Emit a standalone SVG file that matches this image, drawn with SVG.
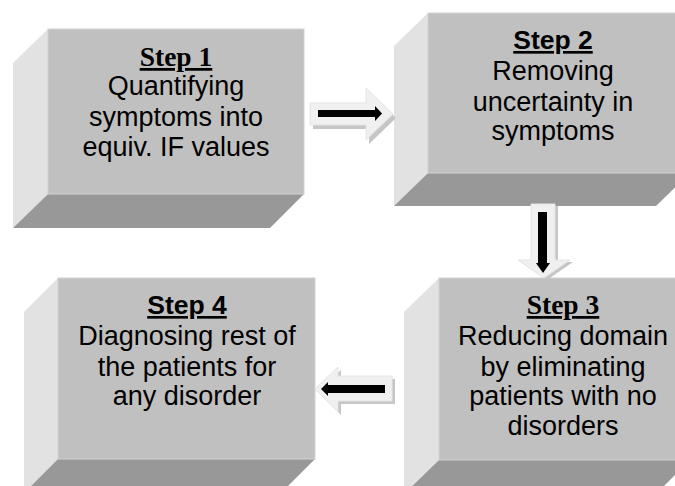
<svg xmlns="http://www.w3.org/2000/svg" width="675" height="486" viewBox="0 0 675 486">
<style>
.front{fill:#c0c0c0;stroke:#d2d2d2;stroke-width:1}
.left{fill:#e2e2e2}
.bottom{fill:#989898}
.t{font-family:"Liberation Sans",Arial,sans-serif;font-size:27px;text-anchor:middle;fill:#000}
.ts{font-family:"Liberation Serif","Times New Roman",serif;font-weight:bold;font-size:27.5px;text-anchor:middle;text-decoration:underline;fill:#000}
.ta{font-family:"Liberation Sans",Arial,sans-serif;font-weight:bold;font-size:26.5px;text-anchor:middle;text-decoration:underline;fill:#000}
.blk{fill:#f0f0f0;stroke:#e4e4e4;stroke-width:1}
.shd{fill:#c6c6c6}
.inner{fill:#000}
</style>
<rect width="675" height="486" fill="#fff"/>
<g id="step1">
<polygon class="left" points="48,29 48,194 13,228 13,63"/>
<polygon class="bottom" points="48,194 304,194 270,228 13,228"/>
<rect class="front" x="48" y="29" width="256" height="165"/>
<text class="ts" x="176" y="66">Step 1</text>
<text class="t" x="176" y="95">Quantifying</text>
<text class="t" x="176" y="126">symptoms into</text>
<text class="t" x="176" y="156">equiv. IF values</text>
</g>
<g id="step2">
<polygon class="left" points="428,13 428,173 394,206 394,46"/>
<polygon class="bottom" points="428,173 690,173 656,206 394,206"/>
<rect class="front" x="428" y="13" width="262" height="160"/>
<text class="ta" x="553" y="49">Step 2</text>
<text class="t" x="553" y="80">Removing</text>
<text class="t" x="553" y="111">uncertainty in</text>
<text class="t" x="553" y="140">symptoms</text>
</g>
<g id="step3">
<polygon class="left" points="439,278 439,460 404,494 404,312"/>
<polygon class="bottom" points="439,460 690,460 656,494 404,494"/>
<rect class="front" x="439" y="278" width="251" height="182"/>
<text class="ts" x="563" y="314">Step 3</text>
<text class="t" x="563" y="345">Reducing domain</text>
<text class="t" x="563" y="376">by eliminating</text>
<text class="t" x="563" y="405">patients with no</text>
<text class="t" x="563" y="435">disorders</text>
</g>
<g id="step4">
<polygon class="left" points="58,278 58,459 24,493 24,312"/>
<polygon class="bottom" points="58,459 315,459 281,493 24,493"/>
<rect class="front" x="58" y="278" width="257" height="181"/>
<text class="ta" x="187" y="314">Step 4</text>
<text class="t" x="187" y="345">Diagnosing rest of</text>
<text class="t" x="187" y="376">the patients for</text>
<text class="t" x="187" y="405">any disorder</text>
</g>
<g id="connectors">
<g id="arrow-1-2">
<polygon class="shd" points="313,107 369,107 369,92 396,118 369,144 369,129 313,129"/>
<polygon class="blk" points="310,103 366,103 366,88 393,114 366,140 366,125 310,125"/>
<rect class="inner" x="318" y="110" width="58" height="7"/>
<polygon class="inner" points="375,106 382,113.5 375,121"/>
</g>
<g id="arrow-2-3">
<polygon class="shd" points="534,206 558,206 558,262 573,262 547,280 521,262 534,262"/>
<polygon class="blk" points="531,204 555,204 555,260 570,260 544,278 518,260 531,260"/>
<rect class="inner" x="538" y="212" width="9" height="52"/>
<polygon class="inner" points="536,263 550,263 543,273"/>
</g>
<g id="arrow-3-4">
<polygon class="shd" points="318,392 341,370 341,379 395,379 395,404 341,404 341,415"/>
<polygon class="blk" points="315,389 338,367 338,376 392,376 392,401 338,401 338,412"/>
<rect class="inner" x="327" y="385" width="58" height="8"/>
<polygon class="inner" points="321,389 328,382 328,396"/>
</g>
</g>
</svg>
